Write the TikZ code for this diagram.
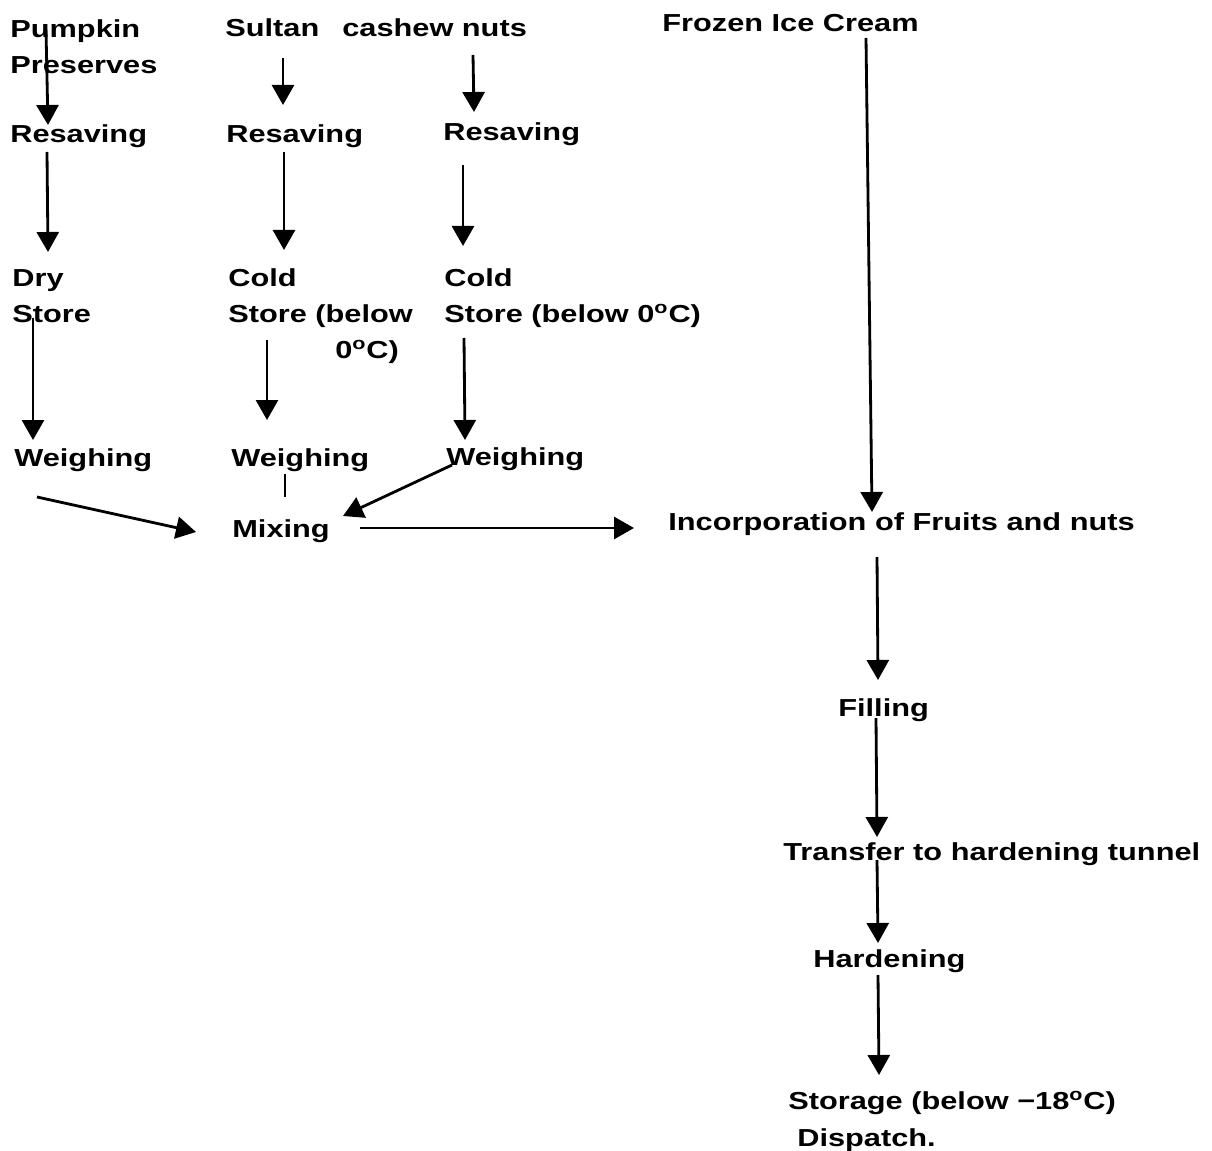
\documentclass[tikz,border=0pt]{standalone}
\usepackage{fontspec}
\setmainfont[FakeStretch=1.25]{Liberation Sans}
\usetikzlibrary{arrows.meta,calc}

\begin{document}
\begin{tikzpicture}[x=0.02cm,y=-0.02cm,
    stage/.style={anchor=base west,inner sep=0pt,align=left,
      font=\fontsize{14}{20.5}\selectfont\bfseries},
    flow/.style={line width=1.6pt,-{Triangle[length=0.4cm,width=0.44cm]}}]

    \useasboundingbox (0,0) rectangle (1212,1151);

    % raw materials (multi-line nodes sit on their last line)
    \node[stage] (pumpkin) at (10,74) {Pumpkin\\Preserves};
    \node[stage] (sultan) at (225,37) {Sultan};
    \node[stage] (cashew) at (342,37) {cashew nuts};
    \node[stage] (frozen) at (662,32) {Frozen Ice Cream};

    % resaving
    \node[stage] (resA) at (10,143) {Resaving};
    \node[stage] (resB) at (226,143) {Resaving};
    \node[stage] (resC) at (443,141) {Resaving};

    % storage of the ingredients
    \node[stage] (dry) at (12,323) {Dry\\Store};
    \node[stage] (coldB) at (228,359) {Cold\\Store (below\\\hspace*{2.14cm}0\textsuperscript{o}C)};
    \node[stage] (coldC) at (444,323) {Cold\\Store (below 0\textsuperscript{o}C)};

    % weighing and mixing
    \node[stage] (weighA) at (14,466) {Weighing};
    \node[stage] (weighB) at (231,466) {Weighing};
    \node[stage] (weighC) at (446,465) {Weighing};
    \node[stage] (mixing) at (232,537) {Mixing};

    % main line
    \node[stage] (incorp) at (668,530) {Incorporation of Fruits and nuts};
    \node[stage] (filling) at (838,716) {Filling};
    \node[stage] (transfer) at (783,860) {Transfer to hardening tunnel};
    \node[stage] (hardening) at (813,967) {Hardening};
    \node[stage] (storage) at (788,1146) {Storage (below −18\textsuperscript{o}C)\\\hspace*{0.18cm}Dispatch.};

    % arrows of the three ingredient columns
    \draw[flow] ($(pumpkin.base -| 46,0)+(0,-44)$) -- ($(resA.base -| 48,0)+(0,-18)$);
    \draw[flow] ($(sultan.base -| 283,0)+(0,21)$) -- ($(resB.base -| 283,0)+(0,-38)$);
    \draw[flow] ($(cashew.base -| 473,0)+(0,18)$) -- ($(resC.base -| 474,0)+(0,-29)$);
    \draw[flow] ($(resA.base -| 47,0)+(0,9)$) -- ($(dry.base -| 48,0)+(0,-71)$);
    \draw[flow] ($(resB.base -| 284,0)+(0,9)$) -- ($(coldB.base -| 284,0)+(0,-109)$);
    \draw[flow] ($(resC.base -| 463,0)+(0,24)$) -- ($(coldC.base -| 463,0)+(0,-77)$);
    \draw[flow] ($(dry.base -| 33,0)+(0,-5)$) -- ($(weighA.base -| 33,0)+(0,-26)$);
    \draw[flow] ($(coldB.base -| 267,0)+(0,-19)$) -- ($(weighB.base -| 267,0)+(0,-46)$);
    \draw[flow] ($(coldC.base -| 464,0)+(0,15)$) -- ($(weighC.base -| 465,0)+(0,-25)$);

    % into the mixing
    \draw[line width=1.6pt] ($(weighB.base -| 285,0)+(0,8)$) -- ($(mixing.base -| 285,0)+(0,-40)$);
    \draw[flow] ($(weighA.base west)+(23,31)$) -- ($(mixing.base west)+(-36,-5)$);
    \draw[flow] ($(weighC.base west)+(6,0)$) -- ($(mixing.base west)+(111,-21)$);
    \draw[flow] ($(mixing.base west)+(128,-9)$) -- ($(incorp.base west)+(-34,-2)$);

    % main line down to dispatch
    \draw[flow] ($(frozen.base -| 866,0)+(0,6)$) -- ($(incorp.base -| 872,0)+(0,-18)$);
    \draw[flow] ($(incorp.base -| 877,0)+(0,27)$) -- ($(filling.base -| 878,0)+(0,-36)$);
    \draw[flow] ($(filling.base -| 876,0)+(0,2)$) -- ($(transfer.base -| 877,0)+(0,-23)$);
    \draw[flow] (transfer.base -| 877,0) -- ($(hardening.base -| 878,0)+(0,-24)$);
    \draw[flow] ($(hardening.base -| 878,0)+(0,8)$) -- ($(storage.base -| 879,0)+(0,-71)$);
\end{tikzpicture}
\end{document}
